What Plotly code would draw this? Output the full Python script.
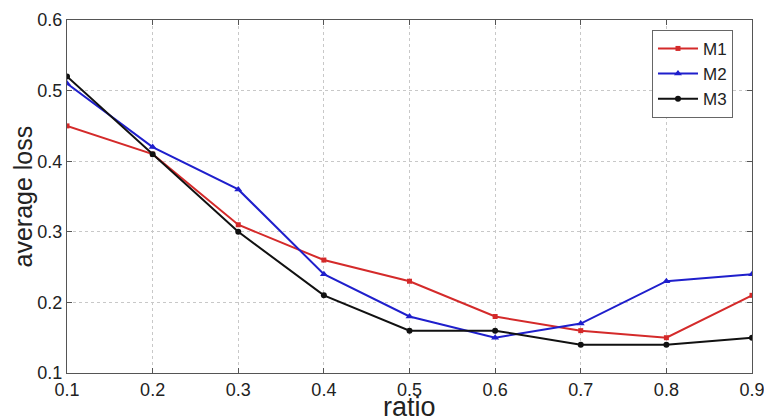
import plotly.graph_objects as go

ratio = [0.1, 0.2, 0.3, 0.4, 0.5, 0.6, 0.7, 0.8, 0.9]
m1 = [0.45, 0.41, 0.31, 0.26, 0.23, 0.18, 0.16, 0.15, 0.21]
m2 = [0.51, 0.42, 0.36, 0.24, 0.18, 0.15, 0.17, 0.23, 0.24]
m3 = [0.52, 0.41, 0.30, 0.21, 0.16, 0.16, 0.14, 0.14, 0.15]
x_ticks = [0.1, 0.2, 0.3, 0.4, 0.5, 0.6, 0.7, 0.8, 0.9]
y_ticks = [0.1, 0.2, 0.3, 0.4, 0.5, 0.6]

FONT = "Liberation Sans, Arial"

fig = go.Figure()
fig.add_trace(go.Scatter(x=ratio, y=m1, name="M1", mode="lines+markers",
                         line=dict(color="#d42a2a", width=2),
                         marker=dict(symbol="square", size=5, color="#d42a2a")))
fig.add_trace(go.Scatter(x=ratio, y=m2, name="M2", mode="lines+markers",
                         line=dict(color="#1f1fcc", width=2),
                         marker=dict(symbol="triangle-up", size=7, color="#1f1fcc")))
fig.add_trace(go.Scatter(x=ratio, y=m3, name="M3", mode="lines+markers",
                         line=dict(color="#111111", width=2),
                         marker=dict(symbol="circle", size=6, color="#111111")))

axis_common = dict(showline=True, linecolor="#555555", linewidth=1, mirror="allticks",
                   ticks="inside", ticklen=5, tickcolor="#555555", automargin=False,
                   ticklabeloverflow="allow",
                   showgrid=True, gridcolor="#c8c8c8", griddash="dot", gridwidth=1,
                   zeroline=False, tickfont=dict(family=FONT, size=18, color="#222222"))

fig.update_xaxes(range=[0.1, 0.9], tickvals=x_ticks, ticktext=[f"{v:.1f}" for v in x_ticks],
                 **axis_common)
fig.update_yaxes(range=[0.1, 0.6], tickvals=y_ticks, ticktext=[f"{v:.1f}" for v in y_ticks],
                 **axis_common)

fig.update_layout(
    width=764, height=420,
    margin=dict(l=67, r=12, t=20, b=47, autoexpand=False),
    paper_bgcolor="white", plot_bgcolor="white",
    showlegend=True,
    legend=dict(x=0.854, y=0.972, xanchor="left", yanchor="top",
                bordercolor="#666666", borderwidth=1, bgcolor="white",
                font=dict(family=FONT, size=17, color="#222222"),
                tracegroupgap=0, itemwidth=40),
    annotations=[
        dict(text="ratio", xref="paper", yref="paper", x=0.5, y=0, yshift=-17,
             xanchor="center", yanchor="top", showarrow=False,
             font=dict(family=FONT, size=27, color="#222222")),
        dict(text="average loss", xref="paper", yref="paper", x=0, xshift=-45, y=0.5,
             xanchor="center", yanchor="middle", textangle=-90, showarrow=False,
             font=dict(family=FONT, size=25, color="#222222")),
    ],
)

# remove the browser's default 8px page margin so the figure fills the window exactly
fig.write_html("out.html",
               config={"displayModeBar": False},
               post_script="document.body.style.margin='0';document.body.style.overflow='hidden';")
